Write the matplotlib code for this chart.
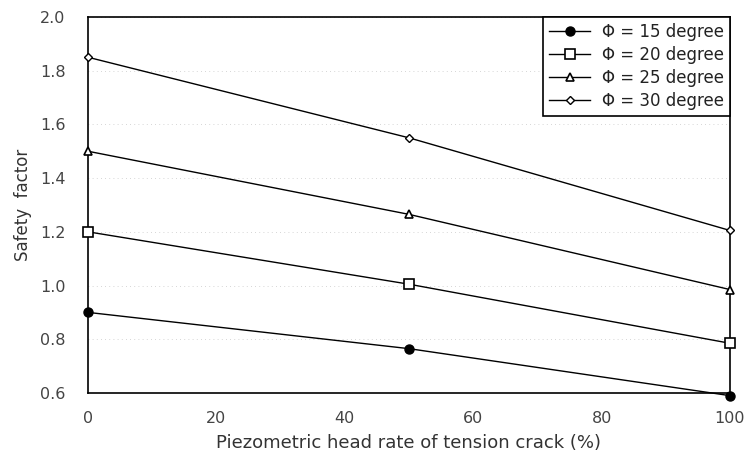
import matplotlib
matplotlib.use("Agg")
import matplotlib.pyplot as plt

x = [0, 50, 100]
phi15 = [0.90, 0.765, 0.59]
phi20 = [1.20, 1.005, 0.785]
phi25 = [1.50, 1.265, 0.985]
phi30 = [1.85, 1.55, 1.205]
labels = ["Φ = 15 degree", "Φ = 20 degree", "Φ = 25 degree", "Φ = 30 degree"]
xticks = [0, 20, 40, 60, 80, 100]
yticks = [0.6, 0.8, 1.0, 1.2, 1.4, 1.6, 1.8, 2.0]

plt.rcParams['font.family'] = ['DejaVu Sans']
fig = plt.figure(figsize=(7.48, 4.58), dpi=100)
ax = fig.add_axes([0.1176, 0.142, 0.8583, 0.821])

ax.plot(x, phi15, '-', color='black', lw=1, marker='o', ms=6.5, mfc='black', mec='black', label=labels[0], clip_on=False, zorder=3)
ax.plot(x, phi20, '-', color='black', lw=1, marker='s', ms=7, mfc='white', mec='black', mew=1.2, label=labels[1], clip_on=False, zorder=3)
ax.plot(x, phi25, '-', color='black', lw=1, marker='^', ms=5.5, mfc='white', mec='black', mew=1.2, label=labels[2], clip_on=False, zorder=3)
ax.plot(x, phi30, '-', color='black', lw=1, marker='D', ms=4.5, mfc='white', mec='black', label=labels[3], clip_on=False, zorder=3)

ax.set_xlim(0, 100)
ax.set_ylim(0.6, 2.0)
ax.set_xticks(xticks)
ax.set_yticks(yticks)
ax.set_yticklabels([f"{v:.1f}" for v in yticks])
ax.tick_params(length=0, labelsize=11.5, colors='#444444')
ax.tick_params(axis='x', pad=13)
ax.tick_params(axis='y', pad=16)
ax.yaxis.grid(True, linestyle=(0, (1, 4)), color='#c8c8c8', lw=0.6)
ax.set_axisbelow(True)
for s in ax.spines.values():
    s.set_linewidth(1.2)
ax.set_xlabel("Piezometric head rate of tension crack (%)", fontsize=13, color='#333333', labelpad=6)
ax.set_ylabel("Safety  factor", fontsize=12, color='#333333', labelpad=6)

leg = ax.legend(loc='upper right', fontsize=12, frameon=True, fancybox=False, edgecolor='black',
                handlelength=2.5, borderaxespad=0, labelspacing=0.3, handletextpad=0.7, borderpad=0.35,
                framealpha=1)
leg.get_frame().set_linewidth(1.2)
for t in leg.get_texts():
    t.set_color('#222222')

fig.savefig("out.png", dpi=100)
